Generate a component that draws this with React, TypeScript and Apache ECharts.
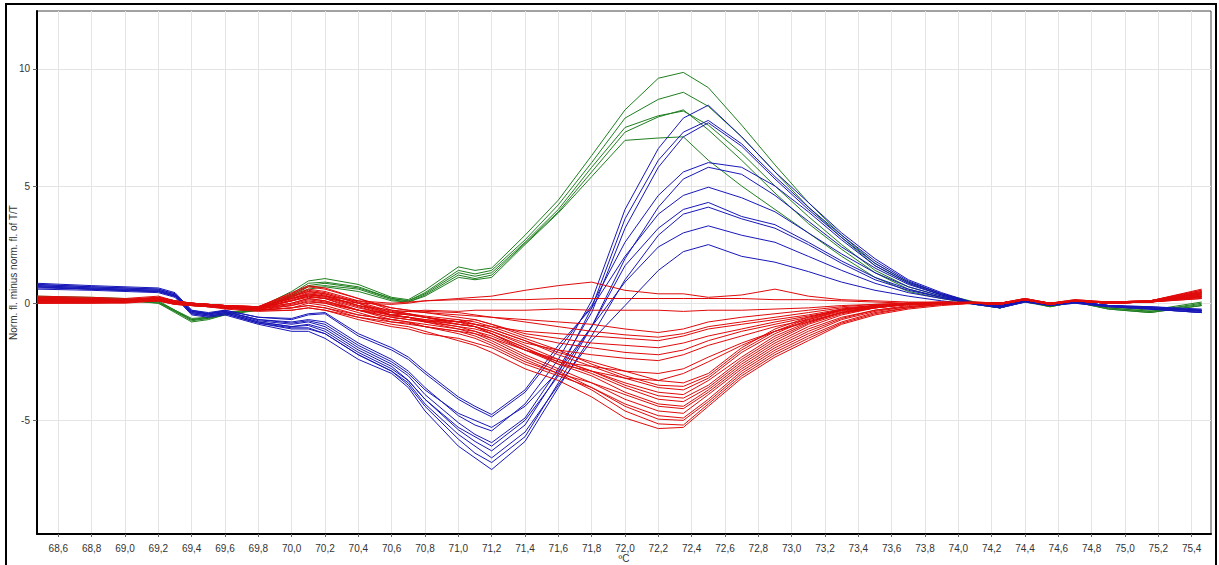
import React, { useEffect, useRef } from "react";
import * as echarts from "echarts";

// Temperature points (°C) shared by all curves
const X = [
  68.472, 68.8, 69.0, 69.2, 69.3, 69.4, 69.5, 69.6, 69.8, 70.0,
  70.1, 70.2, 70.4, 70.6, 70.7, 70.8, 71.0, 71.1, 71.2, 71.4,
  71.6, 71.8, 72.0, 72.2, 72.35, 72.5, 72.7, 72.9, 73.1, 73.3,
  73.5, 73.7, 73.9, 74.1, 74.25, 74.4, 74.55, 74.7, 74.9, 75.15, 75.46,
];

const X_TICKS = [
  68.6, 68.8, 69.0, 69.2, 69.4, 69.6, 69.8, 70.0, 70.2, 70.4, 70.6, 70.8,
  71.0, 71.2, 71.4, 71.6, 71.8, 72.0, 72.2, 72.4, 72.6, 72.8, 73.0, 73.2,
  73.4, 73.6, 73.8, 74.0, 74.2, 74.4, 74.6, 74.8, 75.0, 75.2, 75.4,
];
const Y_TICKS = [-5, 0, 5, 10];

// Green curves
const G1 = [0.3, 0.25, 0.2, 0.1, -0.3, -0.7, -0.6, -0.45, -0.2, 0.5,
  0.95, 1.05, 0.8, 0.25, 0.15, 0.55, 1.55, 1.4, 1.5, 2.9,
  4.4, 6.3, 8.25, 9.6, 9.85, 9.2, 7.6, 5.9, 4.3, 2.9,
  1.7, 0.9, 0.4, 0.05, -0.15, 0.15, -0.1, 0.1, -0.15, -0.3, 0.05];
const G2 = [0.25, 0.2, 0.15, 0.05, -0.35, -0.75, -0.65, -0.5, -0.25, 0.4,
  0.85, 0.9, 0.7, 0.2, 0.1, 0.45, 1.4, 1.25, 1.4, 2.7,
  4.2, 6.0, 7.9, 8.7, 9.0, 8.4, 7.1, 5.6, 4.1, 2.8,
  1.6, 0.85, 0.35, 0.0, -0.2, 0.1, -0.1, 0.1, -0.2, -0.35, 0.0];
const G3 = [0.2, 0.2, 0.15, 0.0, -0.4, -0.8, -0.7, -0.5, -0.3, 0.35,
  0.75, 0.85, 0.65, 0.2, 0.1, 0.4, 1.3, 1.15, 1.3, 2.6,
  4.0, 5.8, 7.5, 8.0, 8.2, 7.6, 6.4, 5.0, 3.7, 2.5,
  1.4, 0.7, 0.3, 0.0, -0.2, 0.1, -0.15, 0.05, -0.2, -0.35, -0.05];
const G4 = [0.15, 0.15, 0.1, 0.0, -0.35, -0.7, -0.65, -0.45, -0.3, 0.3,
  0.7, 0.75, 0.6, 0.15, 0.05, 0.35, 1.2, 1.05, 1.2, 2.55,
  3.9, 5.6, 7.3, 7.95, 8.25, 7.4, 6.1, 4.7, 3.4, 2.3,
  1.3, 0.6, 0.25, -0.05, -0.2, 0.1, -0.15, 0.05, -0.25, -0.4, -0.1];
const G5 = [0.2, 0.15, 0.1, 0.05, -0.3, -0.65, -0.6, -0.4, -0.25, 0.25,
  0.6, 0.7, 0.5, 0.1, 0.05, 0.3, 1.1, 1.0, 1.1, 2.5,
  3.85, 5.4, 6.95, 7.05, 7.1, 6.1, 5.0, 4.0, 3.0, 2.0,
  1.1, 0.5, 0.2, -0.05, -0.2, 0.05, -0.15, 0.05, -0.25, -0.4, -0.1];

// Blue curves
const B1 = [0.75, 0.65, 0.6, 0.55, 0.35, -0.35, -0.45, -0.35, -0.7, -0.8,
  -0.7, -0.8, -1.7, -2.4, -2.9, -3.6, -4.8, -5.2, -5.45, -4.3,
  -2.4, 0.1, 4.0, 6.6, 7.9, 8.45, 7.1, 5.6, 4.3, 3.0,
  1.9, 1.0, 0.45, 0.0, -0.15, 0.1, -0.05, 0.05, -0.1, -0.15, -0.3];
const B2 = [0.7, 0.6, 0.55, 0.5, 0.3, -0.4, -0.5, -0.4, -0.8, -1.0,
  -0.9, -1.1, -2.0, -2.7, -3.3, -4.1, -5.4, -5.9, -6.3, -5.2,
  -3.0, -0.2, 3.6, 6.1, 7.3, 7.8, 6.8, 5.4, 4.1, 2.9,
  1.8, 0.95, 0.4, 0.0, -0.15, 0.1, -0.05, 0.05, -0.1, -0.2, -0.35];
const B3 = [0.8, 0.7, 0.65, 0.6, 0.4, -0.3, -0.45, -0.35, -0.75, -0.9,
  -0.8, -1.0, -1.9, -2.6, -3.1, -3.9, -5.1, -5.6, -5.95, -4.9,
  -2.8, -0.4, 3.2, 5.8, 7.1, 7.7, 6.7, 5.3, 4.0, 2.8,
  1.7, 0.9, 0.4, 0.0, -0.1, 0.1, -0.05, 0.05, -0.1, -0.2, -0.3];
const B4 = [0.65, 0.6, 0.55, 0.5, 0.3, -0.35, -0.45, -0.3, -0.6, -0.7,
  -0.5, -0.45, -1.4, -2.0, -2.4, -3.0, -4.1, -4.5, -4.85, -3.8,
  -2.0, -0.1, 2.6, 4.6, 5.6, 6.0, 5.8, 5.0, 3.9, 2.7,
  1.6, 0.85, 0.35, 0.0, -0.15, 0.1, -0.05, 0.05, -0.1, -0.2, -0.35];
const B5 = [0.7, 0.6, 0.55, 0.5, 0.3, -0.45, -0.55, -0.45, -0.85, -1.1,
  -1.1, -1.3, -2.2, -2.9, -3.5, -4.4, -5.8, -6.4, -6.8, -5.7,
  -3.4, -1.0, 1.9, 4.1, 5.3, 5.8, 5.5, 4.6, 3.5, 2.4,
  1.5, 0.8, 0.35, 0.0, -0.15, 0.1, -0.05, 0.05, -0.1, -0.25, -0.4];
const B6 = [0.85, 0.75, 0.7, 0.65, 0.45, -0.3, -0.4, -0.3, -0.6, -0.65,
  -0.45, -0.4, -1.3, -1.9, -2.3, -2.9, -4.0, -4.4, -4.75, -3.7,
  -1.8, -0.2, 2.0, 3.8, 4.6, 4.95, 4.5, 3.9, 3.0, 2.1,
  1.3, 0.7, 0.3, 0.0, -0.1, 0.15, -0.05, 0.05, -0.1, -0.15, -0.25];
const B7 = [0.75, 0.65, 0.6, 0.55, 0.35, -0.4, -0.5, -0.4, -0.8, -1.0,
  -0.95, -1.2, -2.1, -2.8, -3.3, -4.1, -5.3, -5.7, -6.1, -5.0,
  -3.1, -1.0, 1.6, 3.2, 4.0, 4.3, 3.7, 3.35, 2.6, 1.8,
  1.1, 0.6, 0.25, 0.0, -0.15, 0.1, -0.05, 0.05, -0.1, -0.2, -0.3];
const B8 = [0.6, 0.55, 0.5, 0.45, 0.25, -0.5, -0.6, -0.5, -0.9, -1.2,
  -1.2, -1.5, -2.4, -3.0, -3.6, -4.6, -6.1, -6.6, -7.1, -5.9,
  -3.6, -1.4, 1.0, 2.9, 3.8, 4.1, 3.6, 3.2, 2.5, 1.7,
  1.0, 0.55, 0.25, -0.05, -0.2, 0.05, -0.1, 0.0, -0.15, -0.25, -0.4];
const B9 = [0.8, 0.7, 0.65, 0.6, 0.4, -0.35, -0.45, -0.35, -0.7, -0.85,
  -0.75, -0.9, -1.8, -2.5, -3.0, -3.7, -4.7, -5.0, -5.3, -4.4,
  -2.9, -1.0, 0.9, 2.4, 3.0, 3.3, 2.9, 2.6, 2.0, 1.4,
  0.85, 0.45, 0.2, 0.0, -0.15, 0.1, -0.05, 0.05, -0.1, -0.2, -0.3];
const B10 = [0.7, 0.6, 0.55, 0.5, 0.3, -0.45, -0.55, -0.45, -0.85, -1.05,
  -1.05, -1.3, -2.2, -2.9, -3.4, -4.3, -5.6, -6.1, -6.6, -5.5,
  -3.5, -1.6, -0.1, 1.4, 2.2, 2.5, 2.0, 1.75, 1.35, 0.9,
  0.55, 0.3, 0.1, -0.05, -0.2, 0.05, -0.1, 0.0, -0.15, -0.25, -0.4];

// Red curves
const R1 = [0.2, 0.15, 0.1, 0.2, 0.05, -0.05, -0.1, -0.2, -0.3, -0.2,
  -0.1, -0.2, -0.6, -0.9, -1.0, -1.2, -1.6, -1.8, -2.1, -2.8,
  -3.3, -4.0, -4.9, -5.35, -5.3, -4.4, -3.2, -2.3, -1.6, -0.9,
  -0.5, -0.25, -0.1, 0.0, -0.05, 0.15, -0.05, 0.1, 0.0, 0.05, 0.5];
const R2 = [0.1, 0.1, 0.05, 0.15, 0.0, -0.1, -0.15, -0.2, -0.25, 0.1,
  0.3, 0.2, -0.3, -0.7, -0.8, -1.0, -1.3, -1.5, -1.8, -2.5,
  -3.0, -3.7, -4.6, -5.15, -5.2, -4.3, -3.1, -2.2, -1.5, -0.85,
  -0.45, -0.2, -0.05, 0.0, -0.05, 0.15, -0.05, 0.1, 0.0, 0.05, 0.4];
const R3 = [0.25, 0.2, 0.15, 0.25, 0.1, 0.0, -0.05, -0.1, -0.2, 0.3,
  0.5, 0.4, 0.0, -0.5, -0.6, -0.8, -1.1, -1.3, -1.6, -2.3,
  -2.9, -3.6, -4.4, -4.95, -5.0, -4.2, -3.0, -2.1, -1.4, -0.8,
  -0.4, -0.2, -0.05, 0.0, 0.0, 0.15, -0.05, 0.1, 0.0, 0.1, 0.55];
const R4 = [0.0, 0.0, 0.0, 0.1, -0.05, -0.1, -0.15, -0.25, -0.35, -0.3,
  -0.2, -0.3, -0.7, -1.0, -1.1, -1.3, -1.5, -1.7, -1.9, -2.6,
  -3.1, -3.6, -4.3, -4.8, -4.9, -4.1, -2.9, -2.0, -1.3, -0.7,
  -0.35, -0.15, -0.05, 0.0, -0.05, 0.15, -0.05, 0.1, 0.0, 0.05, 0.3];
const R5 = [0.15, 0.15, 0.1, 0.2, 0.05, -0.05, -0.1, -0.15, -0.2, 0.2,
  0.45, 0.35, -0.1, -0.5, -0.6, -0.75, -1.0, -1.2, -1.5, -2.2,
  -2.8, -3.4, -4.1, -4.6, -4.7, -3.9, -2.8, -1.9, -1.2, -0.65,
  -0.3, -0.15, 0.0, 0.0, 0.0, 0.15, 0.0, 0.1, 0.05, 0.05, 0.45];
const R6 = [0.05, 0.05, 0.05, 0.15, 0.0, -0.05, -0.1, -0.2, -0.3, -0.1,
  0.1, 0.0, -0.4, -0.8, -0.85, -1.0, -1.2, -1.4, -1.7, -2.4,
  -3.0, -3.4, -3.9, -4.4, -4.5, -3.8, -2.7, -1.8, -1.1, -0.6,
  -0.3, -0.1, 0.0, 0.0, -0.05, 0.15, -0.05, 0.1, 0.0, 0.05, 0.35];
const R7 = [0.3, 0.25, 0.2, 0.3, 0.1, 0.0, -0.05, -0.1, -0.15, 0.4,
  0.7, 0.6, 0.2, -0.3, -0.45, -0.6, -0.9, -1.0, -1.3, -2.0,
  -2.6, -3.1, -3.8, -4.3, -4.4, -3.7, -2.6, -1.7, -1.0, -0.5,
  -0.2, -0.05, 0.05, 0.05, 0.0, 0.2, 0.0, 0.15, 0.05, 0.1, 0.6];
const R8 = [0.1, 0.1, 0.1, 0.2, 0.0, -0.1, -0.1, -0.15, -0.2, 0.0,
  0.2, 0.1, -0.3, -0.6, -0.7, -0.8, -1.0, -1.1, -1.3, -1.9,
  -2.5, -3.0, -3.6, -4.1, -4.2, -3.6, -2.5, -1.6, -0.9, -0.45,
  -0.2, -0.05, 0.0, 0.0, -0.05, 0.15, -0.05, 0.1, 0.0, 0.05, 0.3];
const R9 = [0.2, 0.15, 0.1, 0.2, 0.05, 0.0, -0.05, -0.1, -0.2, 0.1,
  0.35, 0.25, -0.15, -0.55, -0.6, -0.7, -0.9, -1.0, -1.2, -1.8,
  -2.4, -2.9, -3.5, -3.95, -4.05, -3.5, -2.4, -1.5, -0.85, -0.4,
  -0.15, -0.05, 0.0, 0.0, 0.0, 0.15, 0.0, 0.1, 0.05, 0.1, 0.45];
const R10 = [0.0, 0.0, 0.05, 0.1, -0.05, -0.1, -0.15, -0.2, -0.3, -0.2,
  0.0, -0.1, -0.5, -0.7, -0.8, -0.9, -1.1, -1.2, -1.4, -2.0,
  -2.4, -2.9, -3.4, -3.8, -3.9, -3.3, -2.3, -1.4, -0.8, -0.4,
  -0.15, -0.05, 0.0, 0.0, -0.05, 0.15, -0.05, 0.1, 0.0, 0.05, 0.25];
const R11 = [0.15, 0.1, 0.1, 0.2, 0.05, -0.05, -0.1, -0.15, -0.25, 0.15,
  0.4, 0.3, -0.1, -0.4, -0.5, -0.6, -0.8, -0.9, -1.1, -1.6,
  -2.2, -2.7, -3.2, -3.6, -3.7, -3.2, -2.1, -1.3, -0.7, -0.3,
  -0.1, 0.0, 0.0, 0.0, 0.0, 0.15, 0.0, 0.1, 0.05, 0.1, 0.4];
const R12 = [0.25, 0.2, 0.15, 0.25, 0.1, 0.0, -0.05, -0.1, -0.2, 0.3,
  0.55, 0.45, 0.05, -0.35, -0.45, -0.55, -0.7, -0.8, -1.0, -1.5,
  -2.0, -2.6, -3.1, -3.5, -3.55, -3.1, -2.0, -1.2, -0.65, -0.3,
  -0.1, 0.0, 0.05, 0.0, 0.0, 0.2, 0.0, 0.1, 0.05, 0.1, 0.5];
const R13 = [0.05, 0.05, 0.05, 0.15, 0.0, -0.05, -0.1, -0.2, -0.25, -0.05,
  0.15, 0.05, -0.3, -0.5, -0.6, -0.7, -0.8, -0.9, -1.1, -1.6,
  -2.1, -2.5, -2.9, -3.3, -3.4, -3.0, -1.9, -1.1, -0.6, -0.25,
  -0.1, 0.0, 0.0, 0.0, -0.05, 0.15, -0.05, 0.1, 0.0, 0.05, 0.3];
const R14 = [0.1, 0.1, 0.05, 0.15, 0.0, -0.05, -0.1, -0.15, -0.2, 0.2,
  0.4, 0.3, -0.1, -0.3, -0.35, -0.4, -0.5, -0.55, -0.6, -0.7,
  -0.8, -0.9, -1.1, -1.25, -1.1, -0.8, -0.6, -0.45, -0.3, -0.15,
  -0.05, 0.0, 0.0, 0.0, 0.0, 0.15, 0.0, 0.1, 0.0, 0.05, 0.3];
const R15 = [0.2, 0.15, 0.1, 0.2, 0.05, 0.0, -0.05, -0.1, -0.15, 0.35,
  0.6, 0.5, 0.1, -0.2, -0.3, -0.35, -0.4, -0.5, -0.6, -0.8,
  -1.0, -1.2, -1.35, -1.45, -1.3, -1.0, -0.8, -0.6, -0.4, -0.2,
  -0.1, 0.0, 0.0, 0.0, 0.0, 0.15, 0.0, 0.1, 0.05, 0.05, 0.4];
const R16 = [0.0, 0.05, 0.05, 0.1, -0.05, -0.1, -0.15, -0.2, -0.3, -0.2,
  -0.1, -0.2, -0.5, -0.7, -0.6, -0.8, -0.7, -0.9, -1.0, -1.2,
  -1.3, -1.4, -1.5, -1.6, -1.4, -1.1, -0.9, -0.7, -0.5, -0.25,
  -0.1, -0.05, 0.0, 0.0, -0.05, 0.15, -0.05, 0.1, 0.0, 0.05, 0.2];
const R17 = [0.15, 0.1, 0.1, 0.2, 0.05, -0.05, -0.1, -0.15, -0.2, 0.1,
  0.3, 0.2, -0.2, -0.5, -0.45, -0.6, -0.8, -0.7, -0.9, -1.3,
  -1.5, -1.7, -1.8, -1.9, -1.7, -1.4, -1.1, -0.8, -0.55, -0.3,
  -0.1, -0.05, 0.0, 0.0, 0.0, 0.15, 0.0, 0.1, 0.0, 0.05, 0.35];
const R18 = [0.25, 0.2, 0.15, 0.25, 0.1, 0.0, -0.05, -0.1, -0.15, 0.45,
  0.75, 0.65, 0.2, -0.2, -0.3, -0.4, -0.6, -0.7, -0.9, -1.4,
  -1.7, -1.9, -2.1, -2.2, -2.0, -1.6, -1.2, -0.9, -0.6, -0.3,
  -0.15, -0.05, 0.0, 0.05, 0.0, 0.2, 0.0, 0.15, 0.05, 0.1, 0.55];
const R19 = [0.05, 0.05, 0.05, 0.15, 0.0, -0.05, -0.1, -0.2, -0.25, 0.0,
  0.2, 0.1, -0.3, -0.6, -0.7, -0.75, -0.9, -1.0, -1.2, -1.7,
  -2.0, -2.2, -2.35, -2.45, -2.2, -1.8, -1.4, -1.0, -0.7, -0.35,
  -0.15, -0.05, 0.0, 0.0, -0.05, 0.15, -0.05, 0.1, 0.0, 0.05, 0.3];
const R20 = [0.1, 0.1, 0.05, 0.15, 0.0, -0.1, -0.15, -0.2, -0.3, -0.3,
  -0.2, -0.3, -0.6, -0.8, -0.9, -1.0, -1.2, -1.3, -1.5, -2.0,
  -2.5, -2.7, -2.9, -3.0, -2.8, -2.3, -1.7, -1.2, -0.8, -0.4,
  -0.2, -0.05, 0.0, 0.0, -0.05, 0.15, -0.05, 0.1, 0.0, 0.05, 0.25];
const R21 = [0.2, 0.15, 0.1, 0.2, 0.05, 0.0, -0.05, -0.1, -0.2, 0.25,
  0.5, 0.4, 0.0, -0.4, -0.5, -0.6, -0.8, -1.0, -1.3, -1.9,
  -2.6, -2.9, -3.2, -3.3, -3.0, -2.5, -1.8, -1.2, -0.75, -0.4,
  -0.2, -0.05, 0.0, 0.0, 0.0, 0.15, 0.0, 0.1, 0.05, 0.1, 0.45];
const R22 = [0.15, 0.1, 0.1, 0.2, 0.05, 0.0, -0.05, -0.1, -0.15, 0.2,
  0.35, 0.3, 0.1, 0.0, 0.05, 0.1, 0.2, 0.25, 0.3, 0.55,
  0.75, 0.9, 0.55, 0.4, 0.4, 0.25, 0.35, 0.6, 0.3, 0.15,
  0.1, 0.05, 0.05, 0.0, 0.0, 0.15, 0.0, 0.1, 0.05, 0.05, 0.4];
const R23 = [0.1, 0.1, 0.05, 0.15, 0.0, -0.05, -0.1, -0.15, -0.2, 0.1,
  0.25, 0.2, 0.0, -0.05, 0.0, 0.1, 0.15, 0.15, 0.15, 0.15,
  0.2, 0.2, 0.2, 0.2, 0.2, 0.2, 0.2, 0.15, 0.15, 0.1,
  0.05, 0.0, 0.0, 0.0, 0.0, 0.15, 0.0, 0.1, 0.0, 0.05, 0.3];
const R24 = [0.05, 0.05, 0.05, 0.1, 0.0, -0.05, -0.1, -0.2, -0.25, -0.1,
  0.05, 0.0, -0.3, -0.4, -0.35, -0.3, -0.35, -0.3, -0.3, -0.3,
  -0.25, -0.3, -0.3, -0.3, -0.35, -0.3, -0.3, -0.25, -0.2, -0.1,
  -0.05, 0.0, 0.0, 0.0, -0.05, 0.15, -0.05, 0.1, 0.0, 0.05, 0.2];

const GREEN = [G1, G2, G3, G4, G5];
const BLUE = [B1, B2, B3, B4, B5, B6, B7, B8, B9, B10];
const RED = [R1, R2, R3, R4, R5, R6, R7, R8, R9, R10, R11, R12, R13, R14, R15, R16, R17, R18, R19, R20, R21, R22, R23, R24];

const FONT = "'Liberation Sans', Arial, sans-serif";

function makeSeries(vals: number[], color: string, name: string) {
  return {
    type: "line",
    name,
    data: X.map((x, i) => [x, vals[i]]),
    symbol: "none",
    showSymbol: false,
    silent: true,
    clip: true,
    lineStyle: { width: 1, color },
    itemStyle: { color },
  };
}

export default function App() {
  const ref = useRef<HTMLDivElement>(null);
  useEffect(() => {
    if (!ref.current) return;
    const chart = echarts.init(ref.current, null, { renderer: "svg" });
    const series: any[] = [];
    GREEN.forEach((v, i) => series.push(makeSeries(v, "#1f7f1f", "G" + (i + 1))));
    BLUE.forEach((v, i) => series.push(makeSeries(v, "#1717b8", "B" + (i + 1))));
    RED.forEach((v, i) => series.push(makeSeries(v, "#e00a0a", "R" + (i + 1))));
    chart.setOption({
      animation: false,
      backgroundColor: "#ffffff",
      grid: {
        left: 37, right: 8, top: 11, bottom: 31,
        outerBoundsMode: "none",
        containLabel: false,
        show: true, borderColor: "#444", borderWidth: 1, backgroundColor: "transparent",
      },
      xAxis: {
        type: "value",
        min: 68.472,
        max: 75.516,
        name: "ºC",
        nameLocation: "middle",
        nameGap: 19,
        nameMoveOverlap: false,
        nameTextStyle: { fontSize: 10, color: "#333", fontFamily: FONT },
        axisLine: { show: true, onZero: false, lineStyle: { color: "#000", width: 2 } },
        axisTick: { show: true, customValues: X_TICKS, length: 3, lineStyle: { color: "#666" } },
        axisLabel: {
          customValues: X_TICKS,
          formatter: (v: number) => v.toFixed(1).replace(".", ","),
          fontSize: 10, color: "#333", margin: 9, fontFamily: FONT,
        },
        splitLine: { show: true, lineStyle: { color: "#e4e4e4", width: 1 } },
      },
      yAxis: {
        type: "value",
        min: -9.85,
        max: 12.47,
        name: "Norm. fl. minus norm. fl. of T/T",
        nameLocation: "middle",
        nameGap: 19,
        nameMoveOverlap: false,
        nameTextStyle: { fontSize: 10, color: "#333", fontFamily: FONT },
        axisLine: { show: true, onZero: false, lineStyle: { color: "#000", width: 2 } },
        axisTick: { show: true, customValues: Y_TICKS, length: 4, lineStyle: { color: "#666" } },
        axisLabel: {
          customValues: Y_TICKS,
          fontSize: 10, color: "#333", margin: 7, fontFamily: FONT,
        },
        splitLine: { show: true, lineStyle: { color: "#e4e4e4", width: 1 } },
      },
      graphic: [
        {
          type: "rect",
          shape: { x: 6, y: 4, width: 1210, height: 600 },
          style: { fill: "none", stroke: "#000", lineWidth: 2 },
          silent: true,
        },
      ],
      series,
    });
    return () => chart.dispose();
  }, []);
  return (
    <div
      ref={ref}
      style={{ position: "fixed", left: 0, top: 0, width: 1219, height: 565, background: "#fff" }}
    />
  );
}
